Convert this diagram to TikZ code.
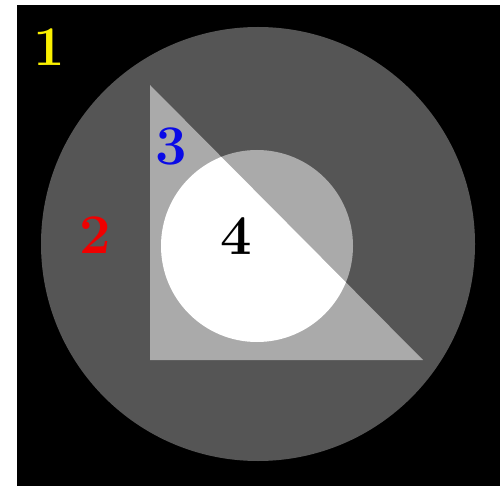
\documentclass[tikz,border=0pt]{standalone}
\usepackage{tikz}
\definecolor{PhantomDark}{RGB}{85,85,85}
\definecolor{PhantomLight}{RGB}{170,170,170}
\definecolor{LabelYellow}{RGB}{250,240,0}
\definecolor{LabelRed}{RGB}{240,0,0}
\definecolor{LabelBlue}{RGB}{10,10,230}

\begin{document}
\begin{tikzpicture}[
    x=1pt, y=-1pt,
    region/.style={
        font=\fontsize{56}{56}\selectfont\bfseries,
        inner sep=0pt
    }
]
\useasboundingbox (0,0) rectangle (502,486);

% background and outer disc
\fill[black] (17,5) rectangle (500,486);
\fill[PhantomDark] (258,244) circle (217);

% triangle and inner disc
\coordinate (tritop) at (150,85);
\coordinate (trileft) at (150,360);
\coordinate (triright) at (423,360);
\fill[PhantomLight] (tritop) -- (trileft) -- (triright) -- cycle;
\fill[PhantomLight] (257,246) circle (96);
\begin{scope}
    \clip (tritop) -- (trileft) -- (triright) -- cycle;
    \fill[white] (257,246) circle (96);
\end{scope}

% region labels
\node[region, text=LabelYellow] (one) at (49,47) {1};
\node[region, text=LabelRed] (two) at (95,235) {2};
\node[region, text=LabelBlue] (three) at (171,146) {3};
\node[region, text=black] (four) at (236,236) {4};

\end{tikzpicture}
\end{document}
